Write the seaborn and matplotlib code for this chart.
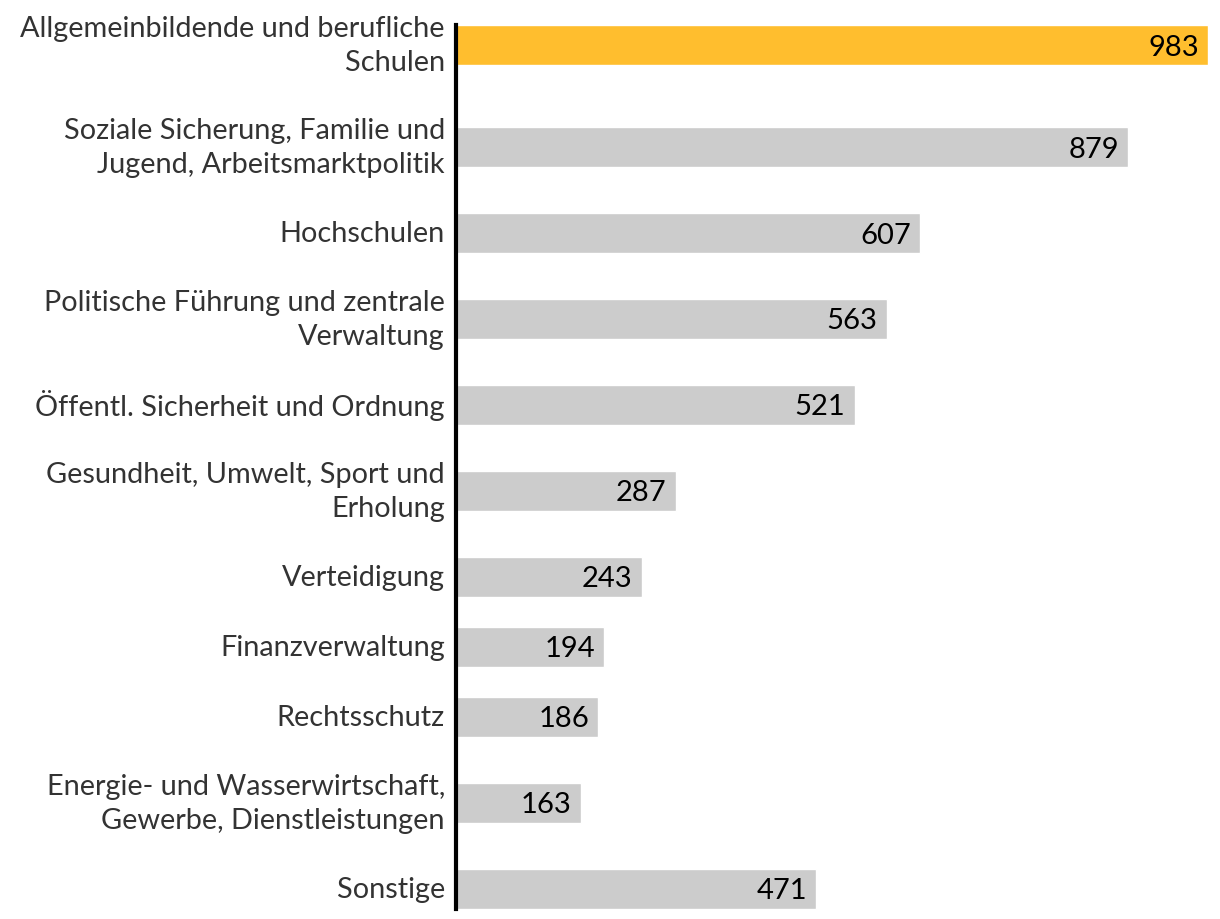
import numpy as np
import pandas as pd
import matplotlib
matplotlib.use("Agg")
import matplotlib.pyplot as plt
import seaborn as sns

# Ausgaben nach Aufgabenbereichen
labels = [
    "Allgemeinbildende und berufliche\nSchulen",
    "Soziale Sicherung, Familie und\nJugend, Arbeitsmarktpolitik",
    "Hochschulen",
    "Politische Führung und zentrale\nVerwaltung",
    "Öffentl. Sicherheit und Ordnung",
    "Gesundheit, Umwelt, Sport und\nErholung",
    "Verteidigung",
    "Finanzverwaltung",
    "Rechtsschutz",
    "Energie- und Wasserwirtschaft,\nGewerbe, Dienstleistungen",
    "Sonstige",
]
values = [983, 879, 607, 563, 521, 287, 243, 194, 186, 163, 471]
highlight = "Allgemeinbildende und berufliche\nSchulen"

# slot height grows with the number of label lines (pixel units)
lines = np.array([l.count("\n") + 1 for l in labels])
slots = 38 + 32 * lines
pos = np.cumsum(slots) - slots / 2 - 5
bar_h = 40

df = pd.DataFrame({"label": labels, "value": values, "pos": pos})
df["group"] = np.where(df["label"] == highlight, "hl", "rest")

sns.set_style("white")
plt.rcParams["font.family"] = ["Lato", "DejaVu Sans"]

fig = plt.figure(figsize=(12.2, 9.2), dpi=100)
ax = fig.add_axes([456 / 1220, 0, 764 / 1220, 1])

sns.barplot(
    data=df, x="value", y="pos", hue="group", orient="y", native_scale=True,
    palette={"hl": "#FFBE2E", "rest": "#CCCCCC"}, width=bar_h / slots.min(),
    dodge=False, legend=False, ax=ax, saturation=1,
)

for p, v in zip(pos, values):
    ax.text(v - 12, p + 1.5, str(v), ha="right", va="center", fontsize=21, color="black")

ax.set_ylim(920, 0)
ax.set_xlim(0, 998.7)
ax.set_yticks(pos)
ax.set_yticklabels(labels, fontsize=20.8, color="#333333", linespacing=1.42)
ax.tick_params(axis="y", length=0, pad=8)
ax.set_xticks([])
ax.set_xlabel("")
ax.set_ylabel("")
for s in ["top", "right", "bottom"]:
    ax.spines[s].set_visible(False)
ax.spines["left"].set_color("black")
ax.spines["left"].set_linewidth(3)
ax.spines["left"].set_bounds(pos[0] - bar_h / 2, pos[-1] + bar_h / 2)
for t in ax.get_yticklabels():
    t.set_ha("right")
    t.set_va("center")
    t.set_multialignment("right")

fig.savefig("out.png", dpi=100)
